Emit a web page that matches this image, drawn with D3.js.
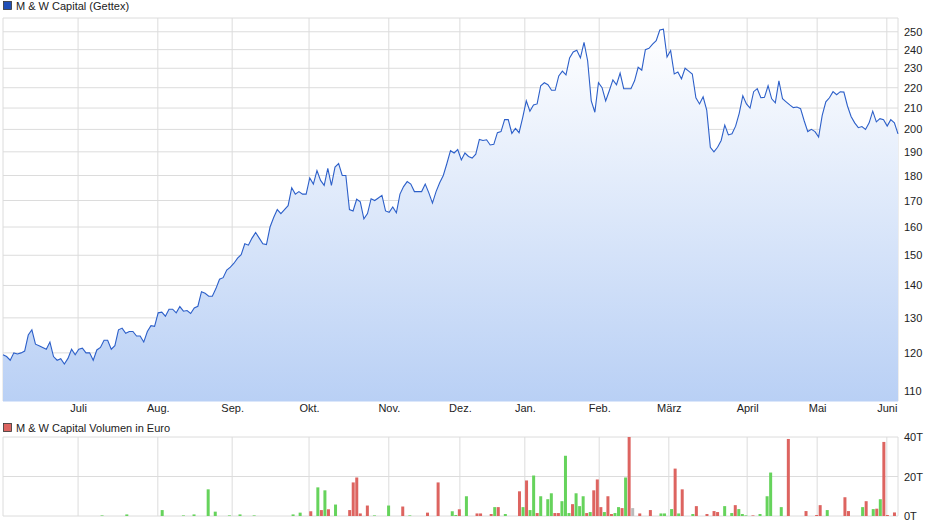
<!DOCTYPE html>
<html><head><meta charset="utf-8">
<script src="https://cdn.jsdelivr.net/npm/d3@7"></script>
<style>body{margin:0;background:#fff}svg{display:block;font-family:"Liberation Sans",Arial,sans-serif}</style>
</head><body><svg id="c" width="940" height="526"></svg>
<script>
const title = "M & W Capital (Gettex)";
const volTitle = "M & W Capital Volumen in Euro";
const prices = [119.5,119,118,120,119.7,120,120.5,125,126.5,122.4,122,121.5,121,123,119,118,118.4,117,118.5,121,119.5,121,121.3,120,120,118,120.8,121.5,123.5,123.5,121,122,126.5,127,125.5,126,126,124.7,124.7,123,126,127.7,127.5,131.5,131.7,130.5,132.6,132.6,131.5,133.4,132,132.2,131.3,133,133.5,138,137.5,136.6,136.6,139,142,142.5,145,
146,147.3,149,150.2,154,153.5,156,158,156,154,153.7,160,163.5,166.5,165,166.5,168,175,172.5,173.5,172.5,172.5,179,176.5,182,178,176,183,176,183.5,185,180,180,166.5,166,170.5,169.5,163,165,170.7,170,171,172,166,165.5,167.5,165.3,172.5,175.5,177.5,176.5,173.5,173.5,173.5,176.5,173,169,173.5,177,180,185,190.5,189.5,
191,186.5,189.5,188,187.3,189,195.5,195,195.3,193,193.3,198.5,199,204.5,204.5,198.2,200.5,198.5,205.5,213.5,208.5,211.5,212,221,222.5,221.5,218.7,218.7,226,228.5,226.5,235.5,238.7,239.7,235.5,244,234,213.5,208,222.5,220,213.5,218.5,224,221.5,227.5,219.5,219.5,219.5,223.5,230.5,229,240,240.7,243,245,251,251.5,236,239.5,227,
228,224.5,230,228.5,227,215,212,215.5,209,192,190,192,195,202,197.5,198,201.5,207.5,216,212,210,218,219.5,215,215.2,221,214.5,212.5,223.5,214.5,213,211.5,210.2,210.5,209.7,204,199,200,199,196.5,206.5,213,215,218,216.5,218,217.8,211,206,203,200.8,201.3,200,203,208.5,203.5,205,204.5,201.5,204.5,203,198];
// volume on a 254-day grid: [index, value in T, direction u=up d=down n=neutral]
const volDays = 254;
const volIdx = [28,35,45,51,54,58,60,64,67,71,82,84,87,89,90,91,92,94,98,99,100,101,103,105,109,113,115,120,123,127,128,129,131,
134,135,138,139,140,142,146,147,148,149,150,151,152,154,155,156,157,158,159,160,161,162,163,164,165,166,167,168,169,170,171,172,173,174,175,176,177,178,180,183,186,187,189,190,191,192,195,196,199,201,202,204,206,207,208,209,210,212,214,216,217,220,222,227,230,231,233,238,239,243,244,246,247,248,249,250,252];
const volVal = [0.3,0.8,3,0.3,0.8,13.5,2.2,0.3,0.8,0.3,0.8,1.7,2.4,14.5,3,13,3.4,5.8,3,17,19.5,1.3,5.3,0.3,5.3,4.8,0.3,1.7,17,2.4,0.5,3.4,10,
1.3,1.3,1,4.5,4.5,1,12.5,4.5,18,3,20.5,1.5,10,8.5,11.5,1.5,1.5,7.5,30.5,1.5,6,11.5,5,10,1.5,2,13,18.5,4.5,2,10,1,1.5,4.5,4,19.5,40,4,1.3,3,1.3,1.3,3.5,24,1.3,13.5,1,5,1,2.5,2,5,1.5,5.5,3.5,1,0.3,0.3,1,10,22,4.5,39,2.5,0.5,5.5,3,9.5,2.5,4.5,7.5,3.5,3.7,8.5,37.5,0.5,1.8];
const volDir = "uuuuuuuuuuuu"+"dududu"+"ddddd"+"uu"+"d"+"u"+"dd"+"uu"+"d"+"u"
 +"dddudududu"+"uduuudduuu"+"duuududddu"+"dduududndd"+"uuudududdd"+"duuduuuduu"+"uudddduddu"+"dududdd";
const monthLabels = ["Juli","Aug.","Sep.","Okt.","Nov.","Dez.","Jan.","Feb.","März","April","Mai","Juni"];
const monthIdx = [20.8,42.9,63.5,84.8,106.9,126.6,144.6,165.2,184.5,206.2,225.6,244.9];
const priceTicks = [110,120,130,140,150,160,170,180,190,200,210,220,230,240,250];
const volTicks = [0,20,40];

const svg = d3.select("#c");
const L=3,R=898,T=18,B=401,VT=437,VB=516;
const N = prices.length;
const x = d3.scaleLinear().domain([0,N-1]).range([L,R]);
const xm = d3.scaleLinear().domain([0,248]).range([L,R]);
const xv = d3.scaleLinear().domain([0,volDays-1]).range([L,R]);
const y = d3.scaleLog().domain([107.5,258]).range([B,T]);
const yv = d3.scaleLinear().domain([0,40]).range([VB,VT]);
const gc="#dcdcdc";

const defs = svg.append("defs");
const gr = defs.append("linearGradient").attr("id","g").attr("x1",0).attr("x2",0).attr("y1",0).attr("y2",1);
gr.append("stop").attr("offset","0%").attr("stop-color","#ffffff");
gr.append("stop").attr("offset","100%").attr("stop-color","#b9d0f5");

svg.append("g").selectAll("line").data(priceTicks).join("line")
 .attr("x1",L).attr("x2",R).attr("y1",d=>y(d)).attr("y2",d=>y(d)).attr("stroke",gc);
svg.append("g").selectAll("line").data(monthIdx).join("line")
 .attr("x1",d=>xm(d)).attr("x2",d=>xm(d)).attr("y1",T).attr("y2",B).attr("stroke",gc);
svg.append("g").selectAll("line").data(volTicks).join("line")
 .attr("x1",L).attr("x2",R).attr("y1",d=>yv(d)).attr("y2",d=>yv(d)).attr("stroke",gc);
svg.append("g").selectAll("line").data(monthIdx).join("line")
 .attr("x1",d=>xm(d)).attr("x2",d=>xm(d)).attr("y1",VT).attr("y2",VB).attr("stroke",gc);
[[T,B],[VT,VB]].forEach(([a,b])=>{
 svg.append("line").attr("x1",L).attr("x2",L).attr("y1",a).attr("y2",b).attr("stroke",gc);
 svg.append("line").attr("x1",R).attr("x2",R).attr("y1",a).attr("y2",b).attr("stroke",gc);
});
svg.append("line").attr("x1",L).attr("x2",R).attr("y1",T).attr("y2",T).attr("stroke",gc);

svg.append("path").datum(prices).attr("fill","url(#g)")
 .attr("d",d3.area().x((d,i)=>x(i)).y0(B).y1(d=>y(d)));
svg.append("path").datum(prices).attr("fill","none").attr("stroke","#2c5fc9").attr("stroke-width",1.1)
 .attr("d",d3.line().x((d,i)=>x(i)).y(d=>y(d)));
svg.append("line").attr("x1",L).attr("x2",R).attr("y1",B).attr("y2",B).attr("stroke","#b9d0f5");

const col={u:"#66d35c",d:"#dd6460",n:"#bbbbbb"};
svg.append("g").selectAll("rect").data(volIdx).join("rect")
 .attr("x",(d)=>xv(d)-1.5).attr("width",3)
 .attr("y",(d,i)=>yv(volVal[i])).attr("height",(d,i)=>yv(0)-yv(volVal[i]))
 .attr("fill",(d,i)=>col[volDir[i]]||col.u);

const ax = svg.append("g").attr("transform",`translate(${R},0)`)
 .call(d3.axisRight(y).tickValues(priceTicks).tickFormat(d3.format("d")).tickSize(0).tickPadding(6));
const av = svg.append("g").attr("transform",`translate(${R},0)`)
 .call(d3.axisRight(yv).tickValues(volTicks).tickFormat(d=>d+"T").tickSize(0).tickPadding(6));
const xb = svg.append("g").attr("transform",`translate(0,${B})`)
 .call(d3.axisBottom(xm).tickValues(monthIdx).tickFormat((d,i)=>monthLabels[i]).tickSize(0).tickPadding(3));
[ax,av,xb].forEach(g=>{g.select(".domain").remove();g.selectAll("text").attr("font-size",11).attr("fill","#222").attr("font-family","Liberation Sans, Arial, sans-serif");});

function legend(yy,fill,text){
 svg.append("rect").attr("x",3.5).attr("y",yy-8.5).attr("width",8).attr("height",8).attr("fill",fill).attr("stroke","#333").attr("stroke-width",0.8);
 svg.append("text").attr("x",16).attr("y",yy).attr("font-size",11).attr("fill","#222").text(text);
}
legend(10,"#1f4fb8",title);
legend(432,"#dd6460",volTitle);
</script></body></html>
